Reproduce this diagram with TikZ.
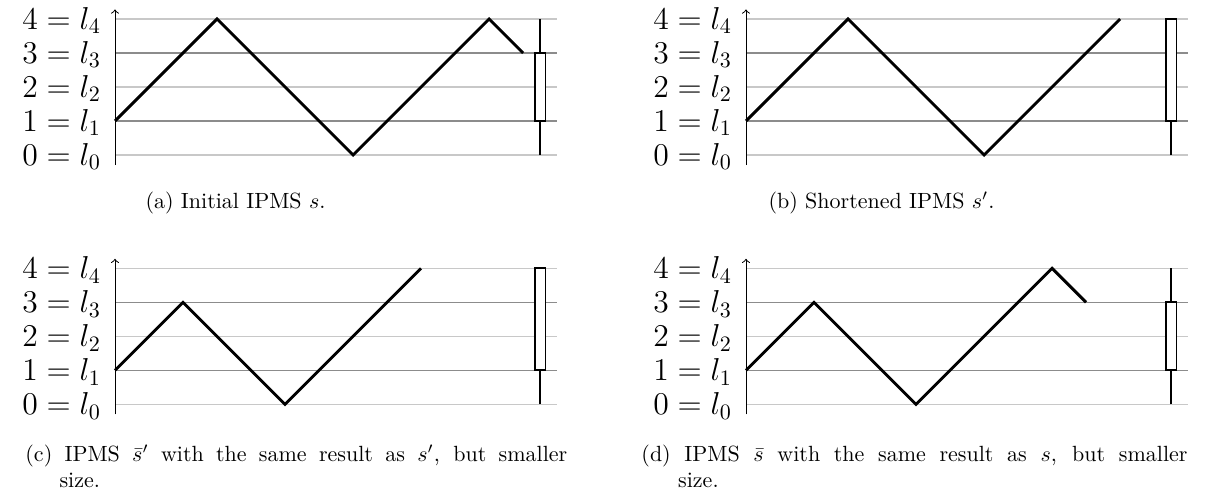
\documentclass[tikz,border=0pt]{standalone}
\definecolor{gridlight}{RGB}{200,200,200}
\definecolor{griddark}{RGB}{140,140,140}
\tikzset{
  gl/.style={gridlight, line width=0.5pt},
  gd/.style={griddark, line width=0.5pt},
  seq/.style={line width=1.3pt, line join=miter},
  whisk/.style={line width=0.9pt},
  bx/.style={line width=0.9pt, fill=white},
  axisline/.style={->, line width=0.45pt},
  lvl/.style={anchor=base east, inner sep=0pt, font=\Large},
  captext/.style={inner sep=0pt, font=\normalsize},
}
\newcommand{\gridframe}[1]{%
  \draw[gl] (0,0) -- (13,0);
  \draw[gd] (0,1) -- (13,1);
  \draw[gl] (0,2) -- (13,2);
  \draw[gd] (0,3) -- (13,3);
  \draw[gl] (0,4) -- (13,4);
  \draw[axisline] (0,-0.294) -- (0,4.28);
  \foreach \k in {0,...,4} {\node[lvl] (#1l\k) at (-0.4,\k-0.3) {$\k = l_{\k}$};}
}
\begin{document}
\begin{tikzpicture}[x=0.4545pt, y=-0.4545pt]
\useasboundingbox (0,0) rectangle (1211,496);
% (a)
\begin{scope}[shift={(115,155)}, x=15.4545pt, y=15.4545pt]
  \gridframe{a}
  \draw[seq] (0,1) -- (3,4) -- (7,0) -- (11,4) -- (12,3);
  \draw[whisk] (12.5,0) -- (12.5,4);
  \draw[bx] (12.34,1) rectangle (12.66,3);
\end{scope}
% (b)
\begin{scope}[shift={(746,155)}, x=15.4545pt, y=15.4545pt]
  \gridframe{b}
  \draw[seq] (0,1) -- (3,4) -- (7,0) -- (11,4);
  \draw[whisk] (12.5,0) -- (12.5,1);
  \draw[bx] (12.34,1) rectangle (12.66,4);
\end{scope}
% (c)
\begin{scope}[shift={(115,404.3)}, x=15.4545pt, y=15.4545pt]
  \gridframe{c}
  \draw[seq] (0,1) -- (2,3) -- (5,0) -- (9,4);
  \draw[whisk] (12.5,0) -- (12.5,1);
  \draw[bx] (12.34,1) rectangle (12.66,4);
\end{scope}
% (d)
\begin{scope}[shift={(746,404.3)}, x=15.4545pt, y=15.4545pt]
  \gridframe{d}
  \draw[seq] (0,1) -- (2,3) -- (5,0) -- (9,4) -- (10,3);
  \draw[whisk] (12.5,0) -- (12.5,4);
  \draw[bx] (12.34,1) rectangle (12.66,3);
\end{scope}
\node[captext, anchor=base] (capa) at (235.5,208) {(a) Initial IPMS $s$.};
\node[captext, anchor=base] (capb) at (881.5,208) {(b) Shortened IPMS $s'$.};
\node[captext, anchor=base west] (capc) at (25,461) {\parbox[t]{246.3pt}{(c) \hangindent=15.5pt\hangafter=1 IPMS $\bar{s}'$ with the same result as $s'$, but smaller\linebreak size.}};
\node[captext, anchor=base west] (capd) at (641,461) {\parbox[t]{248.2pt}{(d) \hangindent=16.7pt\hangafter=1 IPMS $\bar{s}$ with the same result as $s$, but smaller\linebreak size.}};
\end{tikzpicture}
\end{document}
